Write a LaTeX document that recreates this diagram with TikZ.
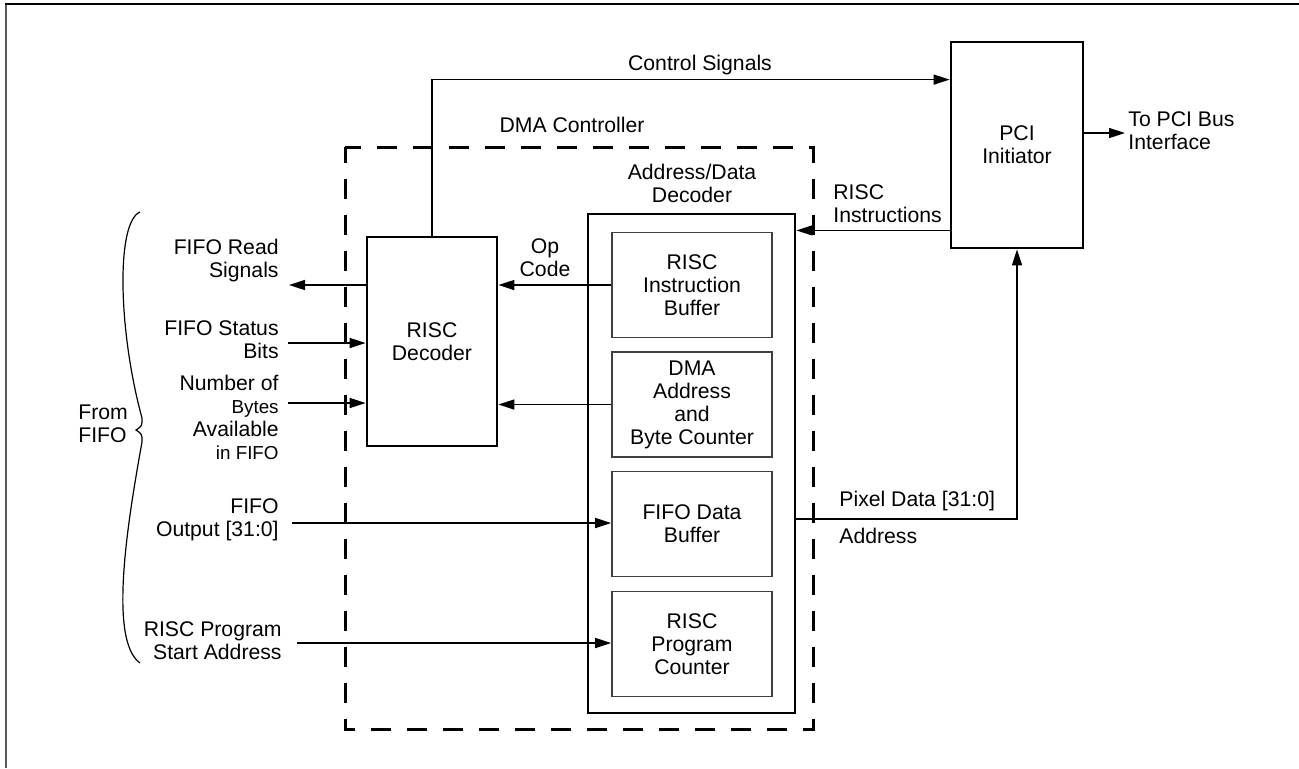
\documentclass[tikz,border=0pt]{standalone}
\usepackage{fontspec}
\setmainfont{Liberation Sans}
\usetikzlibrary{arrows.meta,positioning}
\newcommand{\lbfont}{\fontsize{10.6}{11.5}\selectfont}
\newcommand{\smfont}{\fontsize{9.4}{10}\selectfont}
\tikzset{
  blk/.style={draw, line width=1.4pt, align=center, font=\lbfont},
  subblk/.style={draw=black!75, line width=0.85pt, minimum width=80pt, minimum height=52.5pt, align=center, font=\lbfont},
  lbl/.style={inner sep=0pt, font=\lbfont},
  sig/.style={line width=0.75pt, -{Triangle[length=8pt,width=5pt]}},
}

\begin{document}
\begin{tikzpicture}[x=0.5pt,y=-0.5pt]
  \useasboundingbox (0,0) rectangle (1299,768);
  % frame
  \draw[line width=1.1pt, black!65] (6,768) -- (6,4);
  \draw[line width=1.1pt] (5,4) -- (1299,4);

  % DMA controller
  \draw[line width=1.5pt, dash pattern=on 10pt off 8pt, dash phase=2pt] (345,147) rectangle (813,729);
  \node[lbl] (dmalbl) at (572,125) {DMA Controller};

  \node[blk, minimum width=65pt, minimum height=104.5pt] (risc) at (432,341.5) {RISC\\Decoder};
  \node[blk, minimum width=103.5pt, minimum height=249.5pt] (adbox) at (691.5,463.5) {};
  \node[lbl, align=center] (adlbl) at (692,183) {Address/Data\\Decoder};

  \node[subblk] (ibuf) at (692,285) {RISC\\Instruction\\Buffer};
  \node[subblk] (dbuf) at (692,404.5) {DMA\\Address\\and\\Byte Counter};
  \node[subblk] (fbuf) at (692,524) {FIFO Data\\Buffer};
  \node[subblk] (pbuf) at (692,644) {RISC\\Program\\Counter};

  \node[blk, minimum width=66pt, minimum height=103pt] (pci) at (1017,145) {PCI\\Initiator};

  % free ends
  \coordinate (rd) at (289,285);
  \coordinate (st) at (288,343);
  \coordinate (nb) at (288,403);
  \coordinate (fo) at (292,523);
  \coordinate (ps) at (297,643);
  \coordinate (bus) at (1125,133);
  \coordinate (pd) at (795,519);
  \coordinate (ri) at ([yshift=9.5pt]pci.south west);

  % labels
  \node[lbl, align=right, anchor=east] (rdlbl) at (279,261) {FIFO Read\\Signals};
  \node[lbl, align=right, anchor=east] (stlbl) at (279,340) {FIFO Status\\Bits};
  \node[lbl, align=right, anchor=east] (nblbl) at (279,417) {Number of\\{\smfont Bytes}\\Available\\{\smfont in FIFO}};
  \node[lbl, align=right, anchor=east] (folbl) at (279,520) {FIFO\\Output [31:0]};
  \node[lbl, align=right, anchor=east] (pslbl) at (282,641) {RISC Program\\Start Address};
  \node[lbl, align=left, anchor=west] (fromlbl) at (78,424) {From\\FIFO};
  \node[lbl] (ctllbl) at (700,65) {Control Signals};
  \node[lbl, align=center] (oplbl) at (545,258) {Op\\Code};
  \node[lbl, align=left, anchor=west] (rilbl) at (833,204) {RISC\\Instructions};
  \node[lbl, align=left, anchor=west] (buslbl) at (1128,131) {To PCI Bus\\Interface};
  \node[lbl, anchor=west] (pxlbl) at (839,501) {Pixel Data [31:0]};
  \node[lbl, anchor=west] (addrlbl) at (839,536) {Address};

  % connectors
  \draw[sig] (risc.north) |- ([yshift=-19.5pt]pci.north west);
  \draw[sig] (ri) -- (ri -| adbox.east);
  \draw[sig] (ibuf.west) -- (ibuf.west -| risc.east);
  \draw[sig] (dbuf.west) -- (dbuf.west -| risc.east);
  \draw[sig] (rd -| risc.west) -- (rd);
  \draw[sig] (st) -- (st -| risc.west);
  \draw[sig] (nb) -- (nb -| risc.west);
  \draw[sig] (fo) -- (fo -| fbuf.west);
  \draw[sig] (ps) -- (ps -| pbuf.west);
  \draw[sig] (bus -| pci.east) -- (bus);
  \draw[sig] (pd) -| (pci.south);

  % brace
  \draw[line width=0.6pt] (140,212) .. controls (116,222) and (118,330) .. (142,418)
    .. controls (142,426) .. (136,430) .. controls (142,434) .. (142,442)
    .. controls (128,520) and (108,640) .. (140,663);
\end{tikzpicture}
\end{document}
